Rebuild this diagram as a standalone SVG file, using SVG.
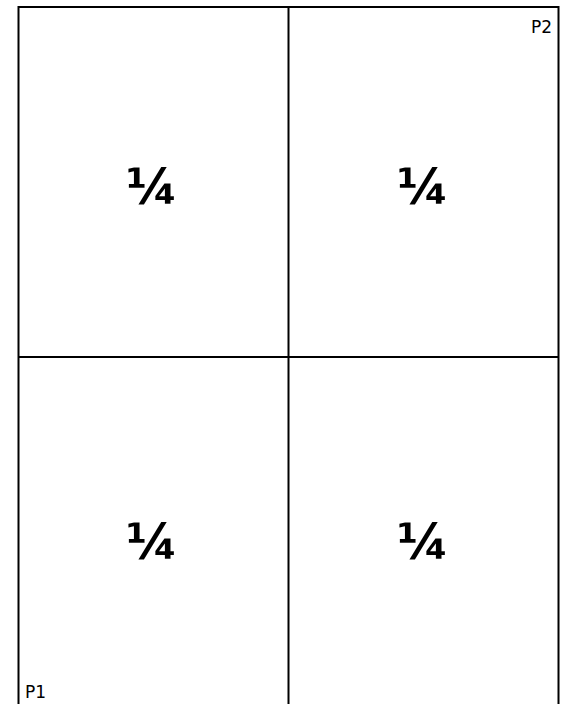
<svg xmlns="http://www.w3.org/2000/svg" width="576" height="704" viewBox="0 0 576 704">
<style>
.ln{stroke:#000;stroke-width:2;fill:none}
.q{font-family:"DejaVu Sans",sans-serif;font-size:50px;font-weight:bold;text-anchor:middle;fill:#000}
.p{font-family:"DejaVu Sans",sans-serif;font-size:17px;fill:#000}
</style>
<rect width="576" height="704" fill="#fff"/>
<g id="frame">
<rect class="ln" x="18.5" y="7" width="540" height="700"/>
</g>
<g id="connectors">
<line class="ln" x1="288.5" y1="7" x2="288.5" y2="707"/>
<line class="ln" x1="18.5" y1="357" x2="558.5" y2="357"/>
</g>
<g id="q1"><text class="q" x="152" y="204">¼</text></g>
<g id="q2"><text class="q" x="423" y="204">¼</text></g>
<g id="q3"><text class="q" x="152" y="559">¼</text></g>
<g id="q4"><text class="q" x="423" y="559">¼</text></g>
<g id="p1"><text class="p" x="25" y="698">P1</text></g>
<g id="p2"><text class="p" x="552" y="33" text-anchor="end">P2</text></g>
</svg>
